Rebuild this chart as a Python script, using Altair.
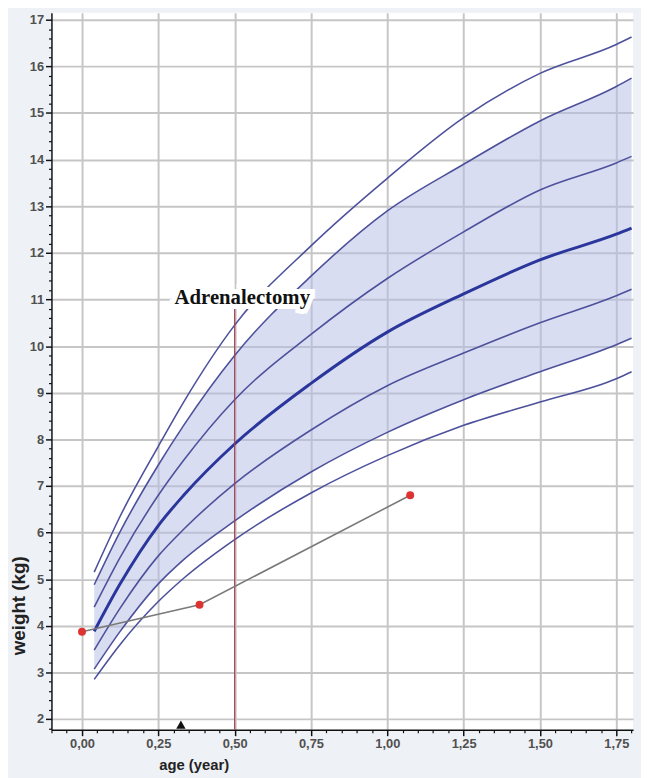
import altair as alt
import pandas as pd

# ---- data ----
ages = [0.04, 0.125, 0.25, 0.333, 0.5, 0.75, 1.0, 1.25, 1.5, 1.75, 1.8]
curve_names = ["P97", "P90", "P75", "P50", "P25", "P10", "P3"]
p97 = [5.15, 6.35, 7.85, 8.8, 10.45, 12.15, 13.6, 14.9, 15.85, 16.47, 16.63]
p90 = [4.88, 6.02, 7.45, 8.3, 9.8, 11.5, 12.9, 13.9, 14.83, 15.57, 15.75]
p75 = [4.4, 5.47, 6.8, 7.55, 8.85, 10.25, 11.45, 12.45, 13.35, 13.93, 14.07]
p50 = [3.88, 4.9, 6.15, 6.8, 7.9, 9.2, 10.3, 11.12, 11.85, 12.4, 12.53]
p25 = [3.48, 4.38, 5.5, 6.07, 7.05, 8.2, 9.15, 9.85, 10.5, 11.08, 11.22]
p10 = [3.07, 3.88, 4.9, 5.42, 6.25, 7.3, 8.15, 8.85, 9.45, 10.03, 10.17]
p3 = [2.85, 3.6, 4.52, 5.02, 5.85, 6.85, 7.65, 8.3, 8.8, 9.3, 9.45]

patient_age = [0.0, 0.385, 1.075]
patient_weight = [3.87, 4.45, 6.8]

event_age = [0.5]
event_top = [10.8]
event_bottom = [1.77]
event_label = ["Adrenalectomy"]
label_age = [0.525]
label_weight = [10.9]

marker_age = [0.324]
marker_weight = [1.88]

x_ticks = [0.0, 0.25, 0.5, 0.75, 1.0, 1.25, 1.5, 1.75]
x_minor = [-0.1, -0.05, 0.05, 0.1, 0.15, 0.2, 0.3, 0.35, 0.4, 0.45, 0.55, 0.6, 0.65, 0.7,
           0.8, 0.85, 0.9, 0.95, 1.05, 1.1, 1.15, 1.2, 1.3, 1.35, 1.4, 1.45, 1.55, 1.6,
           1.65, 1.7, 1.8]
y_ticks = [2, 3, 4, 5, 6, 7, 8, 9, 10, 11, 12, 13, 14, 15, 16, 17]
y_minor = [round(v + d, 1) for v in [1, 2, 3, 4, 5, 6, 7, 8, 9, 10, 11, 12, 13, 14, 15, 16, 17]
           for d in (0.2, 0.4, 0.6, 0.8)]
y_minor = [v for v in y_minor if 1.77 <= v <= 17.15]

# ---- tables ----
series = [p97, p90, p75, p50, p25, p10, p3]
curves = pd.DataFrame(
    [{"age": a, "weight": w, "curve": n}
     for n, vals in zip(curve_names, series) for a, w in zip(ages, vals)]
)
band = pd.DataFrame({"age": ages, "low": p10, "high": p90})
patient = pd.DataFrame({"age": patient_age, "weight": patient_weight})
event = pd.DataFrame({"age": event_age, "top": event_top, "bottom": event_bottom})
label = pd.DataFrame({"age": label_age, "weight": label_weight, "text": event_label})
marker = pd.DataFrame({"age": marker_age, "weight": marker_weight})
minor_x = pd.DataFrame({"age": x_minor})
minor_y = pd.DataFrame({"weight": y_minor})

xs = alt.Scale(domain=[-0.1, 1.805], nice=False, zero=False)
ys = alt.Scale(domain=[1.77, 17.15], nice=False, zero=False)

FONT = "Liberation Sans"
LINE = "#4d519c"
MED = "#2a369c"


def X(field="age:Q"):
    return alt.X(field, scale=xs, axis=None)


def Y(field="weight:Q"):
    return alt.Y(field, scale=ys, axis=None)


x_axis = alt.Axis(
    values=x_ticks, format=".2f", labelExpr="replace(datum.label, '.', ',')",
    title="age (year)", titleFontSize=15, titleFontWeight="bold", titleColor="#222",
    titleX=144, titleY=40, titleBaseline="alphabetic", titleAlign="center", titleAnchor="start",
    labelFontSize=13, labelFontWeight="bold", labelColor="#505050", labelPadding=2,
    tickSize=6, tickColor="#111", domainColor="#111", domainWidth=1.5, tickWidth=1.5,
    grid=True, gridColor="#c6c6c6", gridWidth=2, labelFont=FONT, titleFont=FONT,
    orient="bottom",
)
y_axis = alt.Axis(
    values=y_ticks, format="d",
    title="weight (kg)", titleFontSize=19, titleFontWeight="bold", titleColor="#222",
    titleX=-27, titleY=600, titleBaseline="alphabetic", titleAlign="center", titleAnchor="start",
    labelFontSize=13, labelFontWeight="bold", labelColor="#505050", labelPadding=2,
    tickSize=6, tickColor="#111", domainColor="#111", domainWidth=1.5, tickWidth=1.5,
    grid=True, gridColor="#c6c6c6", gridWidth=2, labelFont=FONT, titleFont=FONT,
    orient="left",
)

band_layer = alt.Chart(band).mark_area(
    color="#b3bbe3", opacity=0.5, interpolate="monotone"
).encode(
    x=alt.X("age:Q", scale=xs, axis=x_axis),
    y=alt.Y("low:Q", scale=ys, axis=y_axis),
    y2="high:Q",
)

others = curves[curves["curve"] != "P50"]
lines_layer = alt.Chart(others).mark_line(
    color=LINE, strokeWidth=1.6, interpolate="monotone"
).encode(x=X(), y=Y(), detail="curve:N")
median_layer = alt.Chart(curves[curves["curve"] == "P50"]).mark_line(
    color=MED, strokeWidth=3, interpolate="monotone"
).encode(x=X(), y=Y())

event_layer = alt.Chart(event).mark_rule(color="#a8404e", strokeWidth=1.2).encode(
    x=X(), y=Y("bottom:Q"), y2="top:Q"
)

halo_layer = alt.Chart(label).mark_text(
    font="Liberation Serif", fontWeight="bold", fontSize=21, color="white",
    stroke="white", strokeWidth=10, align="center", baseline="alphabetic",
).encode(x=X(), y=Y(), text="text:N")
text_layer = alt.Chart(label).mark_text(
    font="Liberation Serif", fontWeight="bold", fontSize=21, color="#111",
    align="center", baseline="alphabetic",
).encode(x=X(), y=Y(), text="text:N")

patient_line = alt.Chart(patient).mark_line(color="#7a7a7a", strokeWidth=1.6).encode(
    x=X(), y=Y()
)
patient_pts = alt.Chart(patient).mark_point(
    filled=True, color="#dd3333", size=65, opacity=1
).encode(x=X(), y=Y())

marker_layer = alt.Chart(marker).mark_point(
    shape="triangle-up", filled=True, color="#111", size=90, opacity=1
).encode(x=X(), y=Y())

minor_x_layer = alt.Chart(minor_x).mark_point(opacity=0).encode(
    x=alt.X("age:Q", scale=xs, axis=alt.Axis(
        values=x_minor, labels=False, grid=False, domain=False, title=None,
        tickSize=3, tickColor="#111", tickWidth=1.2, orient="bottom")),
)
minor_y_layer = alt.Chart(minor_y).mark_point(opacity=0).encode(
    y=alt.Y("weight:Q", scale=ys, axis=alt.Axis(
        values=y_minor, labels=False, grid=False, domain=False, title=None,
        tickSize=3, tickColor="#111", tickWidth=1.2, orient="left")),
)

chart = alt.layer(
    band_layer, lines_layer, median_layer, event_layer, halo_layer, text_layer,
    patient_line, patient_pts, marker_layer, minor_x_layer, minor_y_layer,
).resolve_axis(x="independent", y="independent").properties(
    width=589, height=726,
    autosize=alt.AutoSizeParams(type="none"),
    padding={"left": 44, "top": 0, "right": 8, "bottom": 44},
    background="#eef1f5",
).configure_view(fill="white", strokeWidth=0)

chart.save("out.html", embed_options={"renderer": "svg", "actions": False})
